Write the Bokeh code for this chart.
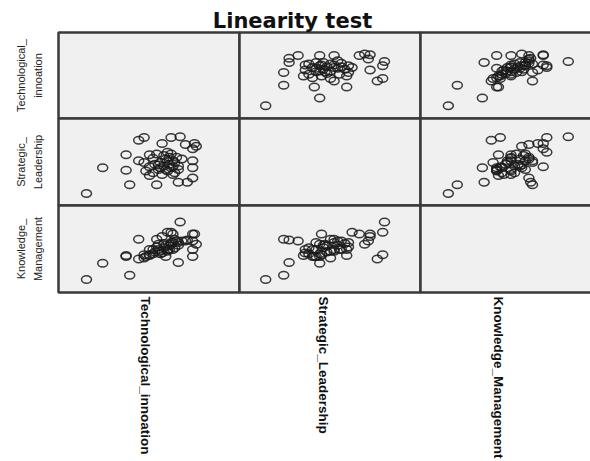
import math
from bokeh.plotting import figure
from bokeh.models import Range1d
from bokeh.core.properties import value
from bokeh.embed import file_html
from bokeh.resources import INLINE

# ---------------- data ----------------
title_text = "Linearity test"
variables = ["Technological_innoation", "Strategic_Leadership", "Knowledge_Management"]
row_labels = ["Technological_\ninnoation", "Strategic_\nLeadership", "Knowledge_\nManagement"]

# case values (mean scores)
technological = [1.60, 1.96, 2.56, 2.48, 2.48, 2.76, 2.88, 2.76, 3.00, 3.16,
                 3.28, 3.48, 3.68, 4.00, 4.04, 3.96, 3.96, 3.96, 3.96, 3.64,
                 3.84, 3.52, 3.52, 3.80, 3.40,
                 2.92, 3.00, 3.08, 3.12, 3.20, 3.24, 3.28, 3.32, 3.36, 3.40,
                 3.44, 3.48, 3.52, 3.56, 3.60, 3.64, 3.08, 3.16, 3.32, 2.88,
                 3.00, 3.24, 3.40, 3.48, 3.56, 3.64, 3.72, 3.20, 3.36, 3.44]
strategic = [1.56, 2.76, 1.96, 2.64, 3.36, 4.04, 4.16, 3.08, 3.36, 1.96,
             3.88, 4.16, 4.20, 3.88, 3.76, 3.64, 3.08, 2.76, 2.28, 2.08,
             2.08, 2.44, 2.80, 3.84, 3.48,
             2.60, 2.80, 2.52, 2.92, 2.68, 3.00, 2.44, 2.84, 3.16, 2.60,
             2.92, 2.76, 3.08, 2.52, 3.24, 2.84, 3.20, 3.40, 3.32, 3.00,
             2.40, 2.76, 3.08, 3.40, 3.00, 2.68, 3.16, 2.88, 2.68, 3.24]
knowledge = [1.60, 2.36, 1.80, 2.68, 2.72, 2.56, 2.76, 3.48, 3.00, 3.48,
             3.60, 3.80, 4.28, 3.72, 3.24, 3.72, 3.00, 2.68, 3.40, 2.40,
             3.44, 3.00, 3.72, 3.40, 3.80,
             2.68, 2.76, 2.80, 2.88, 3.00, 2.92, 2.84, 3.08, 3.20, 3.00,
             3.16, 3.24, 3.32, 3.08, 3.40, 3.20, 3.00, 3.12, 3.28, 2.60,
             2.72, 2.80, 2.92, 3.32, 3.48, 3.32, 3.40, 3.24, 2.68, 3.00]
axis_min, axis_max = 1.0, 5.0

series = [technological, strategic, knowledge]

# ---------------- layout (reference pixel positions) ----------------
W, H = 590, 461
def X(px):
    return px
def Y(py):
    return H - py

col_edges = [58, 239, 420, 600]
row_edges = [32, 118, 205, 292]

p = figure(width=W, height=H, x_range=Range1d(0, W), y_range=Range1d(0, H),
           output_backend="svg", toolbar_location=None, min_border=0)
p.axis.visible = False
p.grid.visible = False
p.outline_line_color = None
p.background_fill_color = "white"
p.border_fill_color = "white"

# panel backgrounds and frames
lefts, rights, tops, bottoms = [], [], [], []
for i in range(3):
    for j in range(3):
        lefts.append(X(col_edges[j]))
        rights.append(X(col_edges[j + 1]))
        tops.append(Y(row_edges[i]))
        bottoms.append(Y(row_edges[i + 1]))
p.quad(left=lefts, right=rights, top=tops, bottom=bottoms,
       fill_color="#f0f0f0", line_color="#3a3a3a", line_width=2.5)

# scatter points in each off-diagonal panel
for i in range(3):          # row -> y variable
    for j in range(3):      # column -> x variable
        if i == j:
            continue
        sub = p.subplot(
            x_source=Range1d(axis_min, axis_max), y_source=Range1d(axis_min, axis_max),
            x_target=Range1d(X(col_edges[j] + 1), X(col_edges[j + 1])),
            y_target=Range1d(Y(row_edges[i + 1]), Y(row_edges[i] + 1)),
        )
        sub.ellipse(x=series[j], y=series[i], width=10, height=7.5,
                    width_units="screen", height_units="screen",
                    fill_alpha=0, line_color="#1a1a1a", line_width=1.5, line_alpha=0.85)

# title
p.text(x=[X(292)], y=[Y(20)], text=[title_text], text_align="center",
       text_baseline="middle", text_font=value("DejaVu Sans"),
       text_font_style="bold", text_font_size="21px", text_color="#111111")

# row labels (left, rotated)
row_centers = [(row_edges[k] + row_edges[k + 1]) / 2 for k in range(3)]
p.text(x=[X(29)] * 3, y=[Y(c) for c in row_centers], text=row_labels,
       angle=math.pi / 2, text_align="center", text_baseline="middle",
       text_font=value("Liberation Sans"),
       text_font_size="11px", text_line_height=1.45, text_color="#222222")

# column labels (bottom, rotated reading downward)
label_x = [145, 323, 498]
p.text(x=[X(v) for v in label_x], y=[Y(296)] * 3, text=variables,
       angle=-math.pi / 2, text_align="left", text_baseline="middle",
       text_font=value("Liberation Sans"),
       text_font_style="bold", text_font_size="13.5px", text_color="#111111")

open("out.html", "w").write(file_html(p, INLINE))
